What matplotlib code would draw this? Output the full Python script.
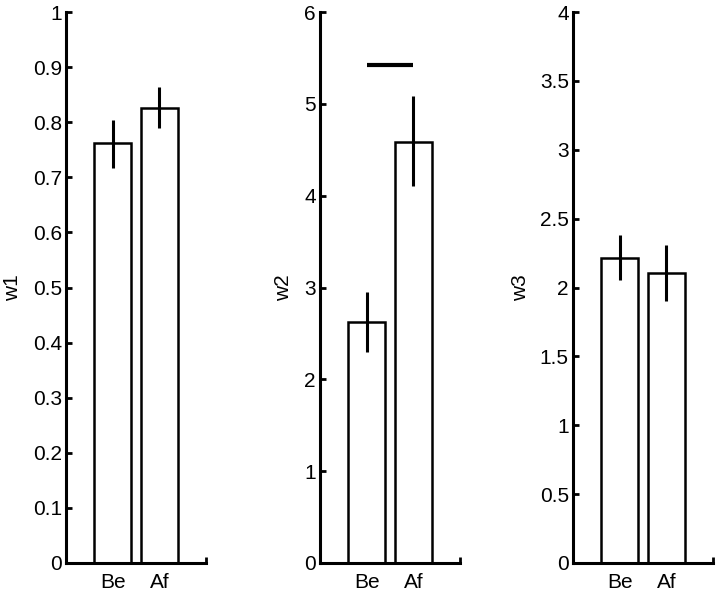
import numpy as np
import matplotlib.pyplot as plt
from matplotlib.ticker import FuncFormatter

plt.rcParams['font.family'] = ['Liberation Sans', 'DejaVu Sans']

# datos
grupos = ['Be', 'Af']
etiquetas = ['w1', 'w2', 'w3']
medias = [[0.762, 0.826], [2.62, 4.58], [2.215, 2.103]]
err_sup = [[0.804, 0.864], [2.95, 5.08], [2.38, 2.31]]
err_inf = [[0.716, 0.790], [2.30, 4.11], [2.055, 1.905]]
ylims = [1, 6, 4]
ypasos = [0.1, 1, 0.5]
signif_y = 5.42  # solo en w2

fig = plt.figure(figsize=(7.21, 5.94), dpi=100)
lefts = [66 / 721, 320 / 721, 573 / 721]
label_x = [-0.315, -0.193, -0.307]
x = np.arange(1, len(grupos) + 1)

for i in range(3):
    ax = fig.add_axes([lefts[i], 31 / 594, 140 / 721, 551 / 594])
    ax.bar(x, medias[i], width=0.8, color='white', edgecolor='black', linewidth=1.8, zorder=2)
    ax.vlines(x, err_inf[i], err_sup[i], color='black', linewidth=2.2, zorder=3)
    if i == 1:
        ax.plot([1, 2], [signif_y, signif_y], color='black', linewidth=3, solid_capstyle='butt')
    ax.set_xlim(0, 3)
    ax.set_ylim(0, ylims[i])
    ax.set_yticks(np.arange(0, ylims[i] + ypasos[i] / 2, ypasos[i]))
    ax.yaxis.set_major_formatter(FuncFormatter(lambda v, p: '%g' % round(v, 2)))
    ax.set_xticks(x)
    ax.set_xticklabels(grupos)
    ax.set_xticks([3], minor=True)
    ax.tick_params(axis='x', which='major', length=0, pad=7, labelsize=15)
    ax.tick_params(axis='x', which='minor', direction='in', length=4, width=2)
    ax.tick_params(axis='y', direction='in', length=4, width=2, labelsize=15, pad=3)
    ax.spines['top'].set_visible(False)
    ax.spines['right'].set_visible(False)
    ax.spines['left'].set_linewidth(2.2)
    ax.spines['bottom'].set_linewidth(2.2)
    ax.set_ylabel(etiquetas[i], fontsize=15)
    ax.yaxis.set_label_coords(label_x[i], 0.5)

plt.savefig('out.png', dpi=100)
